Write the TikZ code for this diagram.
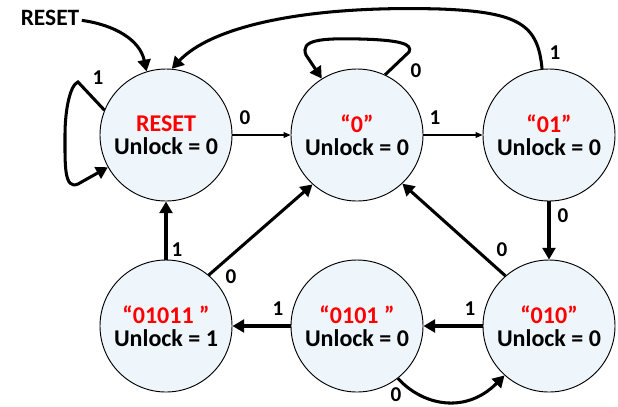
\documentclass[tikz,border=0pt]{standalone}
\usepackage{fontspec}
\setmainfont{Carlito}
\usetikzlibrary{arrows.meta}
\definecolor{stfill}{HTML}{EEF6FC}

\begin{document}
\begin{tikzpicture}[x=0.03cm,y=-0.03cm,
  state/.style={circle,draw,line width=0.8pt,fill=stfill,minimum size=3.96cm,
    inner sep=0pt,align=center,font=\bfseries\fontsize{20.5}{19.6}\selectfont},
  lbl/.style={inner sep=0pt,font=\bfseries\fontsize{18}{18}\selectfont},
  thinarr/.style={line width=0.9pt,-{Triangle[length=6pt,width=5pt]}},
  thickarr/.style={line width=2.6pt,-{Triangle[length=10pt,width=11pt]}}]
\useasboundingbox (0,0) rectangle (618,406);
\newcommand{\nm}[1]{\textcolor{red}{#1}}
% states
\node[state] (reset)  at (166,135) {\nm{RESET}\\Unlock = 0};
\node[state] (s0)     at (357,135) {\nm{“0”}\\Unlock = 0};
\node[state] (s01)    at (549,135) {\nm{“01”}\\Unlock = 0};
\node[state] (s010)   at (549,326) {\nm{“010”}\\Unlock = 0};
\node[state] (s0101)  at (357,326) {\nm{“0101 ”}\\Unlock = 0};
\node[state] (s01011) at (166,326) {\nm{“01011 ”}\\Unlock = 1};
\node[font=\bfseries\fontsize{20}{20}\selectfont,inner sep=0pt] (rin) at (50,18) {RESET};
% straight moves
\draw[thinarr] (reset) -- (s0);
\draw[thinarr] (s0) -- (s01);
\draw[thickarr] (s01) -- (s010);
\draw[thickarr] (s010) -- (s0101);
\draw[thickarr] (s0101) -- (s01011);
\draw[thickarr] (s01011) -- (reset);
\draw[thickarr] (s01011.50) -- (s0.228);
\draw[thickarr] (s010.131) -- (s0.313);
% curved moves
\draw[thickarr] (s0101.308) .. controls (422,405) and (465,415) .. (s010.228);
\draw[thickarr] (s0.65) -- (409,52) .. controls (413,44) and (400,40) .. (360,39)
  .. controls (320,38) and (300,40) .. (306,55) -- (s0.122);
\draw[thickarr] (reset.158) -- (78,82) .. controls (70,85) and (65,110) .. (65,135)
  .. controls (65,165) and (64,190) .. (78,184) -- (reset.209);
\draw[thickarr] (s01.96) .. controls (538,25) and (520,12) .. (440,9)
  .. controls (300,5) and (210,28) .. (reset.85);
\draw[thickarr] ([xshift=2pt,yshift=-2pt]rin.east) .. controls (115,25) and (140,40) .. (reset.107);
% inputs
\node[lbl] (i1)  at (245,118) {0};
\node[lbl] (i2)  at (435,118) {1};
\node[lbl] (i3)  at (98,78)   {1};
\node[lbl] (i4)  at (416,71)  {0};
\node[lbl] (i5)  at (555,53)  {1};
\node[lbl] (i6)  at (563,216) {0};
\node[lbl] (i7)  at (502,250) {0};
\node[lbl] (i8)  at (470,309) {1};
\node[lbl] (i9)  at (278,309) {1};
\node[lbl] (i10) at (177,250) {1};
\node[lbl] (i11) at (231,277) {0};
\node[lbl] (i12) at (396,395) {0};
\end{tikzpicture}
\end{document}
